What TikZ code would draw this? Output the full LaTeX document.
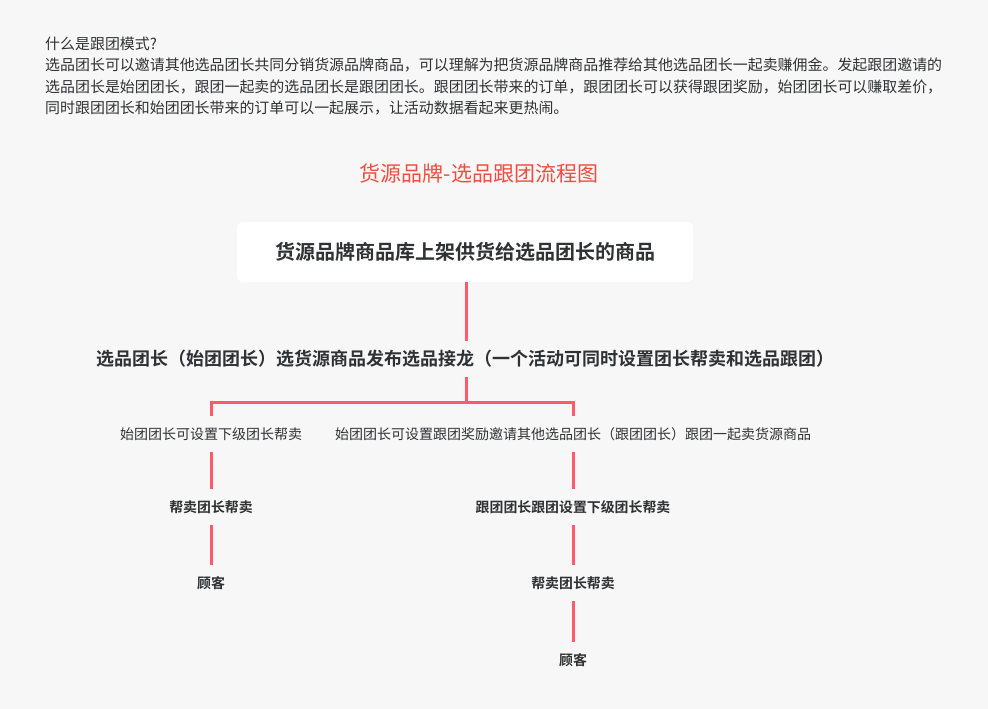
\documentclass[tikz,border=0pt]{standalone}
\usepackage{fontspec}
\setmainfont{Noto Sans CJK SC}[BoldFont={Noto Sans CJK SC Bold}]
\definecolor{bgc}{HTML}{F7F7F7}
\definecolor{linec}{HTML}{FF5A6B}
\definecolor{txtc}{HTML}{303133}
\definecolor{titlec}{HTML}{F24B3F}
\tikzset{
  link/.style={draw=linec, line width=3pt},
  lbl/.style={inner sep=0pt, minimum height=36pt, text=txtc, font=\fontsize{14}{16}\selectfont},
  blbl/.style={inner sep=0pt, minimum height=36pt, text=txtc, font=\fontsize{13.9}{16}\selectfont\bfseries},
  mainlbl/.style={inner sep=0pt, minimum height=36pt, text=txtc, font=\fontsize{18}{22}\selectfont\bfseries},
  topbox/.style={fill=white, rounded corners=6pt, minimum width=456pt, minimum height=60pt, inner sep=0pt, text=txtc, font=\fontsize{20}{24}\selectfont\bfseries}
}
\begin{document}
\begin{tikzpicture}[x=1pt,y=-1pt]
\fill[bgc] (0,0) rectangle (988,709);
\useasboundingbox (0,0) rectangle (988,709);
\node[anchor=north west, inner sep=0pt, align=left, text=txtc, font=\fontsize{14.95}{21.4}\selectfont] (intro) at (45,36.5)
{什么是跟团模式?\\
选品团长可以邀请其他选品团长共同分销货源品牌商品，可以理解为把货源品牌商品推荐给其他选品团长一起卖赚佣金。发起跟团邀请的\\
选品团长是始团团长，跟团一起卖的选品团长是跟团团长。跟团团长带来的订单，跟团团长可以获得跟团奖励，始团团长可以赚取差价，\\
同时跟团团长和始团团长带来的订单可以一起展示，让活动数据看起来更热闹。};
\node[inner sep=0pt, text=titlec, font=\fontsize{21}{25}\selectfont] (title) at (479,173.5) {货源品牌-选品跟团流程图};
\node[topbox] (box) at (465,252) {货源品牌商品库上架供货给选品团长的商品};
\node[mainlbl] (n1) at (465,359) {选品团长（始团团长）选货源商品发布选品接龙（一个活动可同时设置团长帮卖和选品跟团）};
\coordinate (bm) at (466,402);
\coordinate (bl) at (211,402);
\coordinate (br) at (573,402);
\node[lbl] (l1) at (211,434) {始团团长可设置下级团长帮卖};
\node[lbl] (r1) at (573,434) {始团团长可设置跟团奖励邀请其他选品团长（跟团团长）跟团一起卖货源商品};
\node[blbl] (l2) at (211,507) {帮卖团长帮卖};
\node[blbl] (r2) at (573,507) {跟团团长跟团设置下级团长帮卖};
\node[blbl] (l3) at (211,583) {顾客};
\node[blbl] (r3) at (573,583) {帮卖团长帮卖};
\node[blbl] (r4) at (573,660) {顾客};
\draw[link] (box.south -| bm) -- (n1.north -| bm);
\draw[link] (n1.south -| bm) -- (bm);
\draw[link] (l1.north) -- (bl) -- (br) -- (r1.north);
\draw[link] (l1) -- (l2);
\draw[link] (l2) -- (l3);
\draw[link] (r1) -- (r2);
\draw[link] (r2) -- (r3);
\draw[link] (r3) -- (r4);
\end{tikzpicture}
\end{document}
